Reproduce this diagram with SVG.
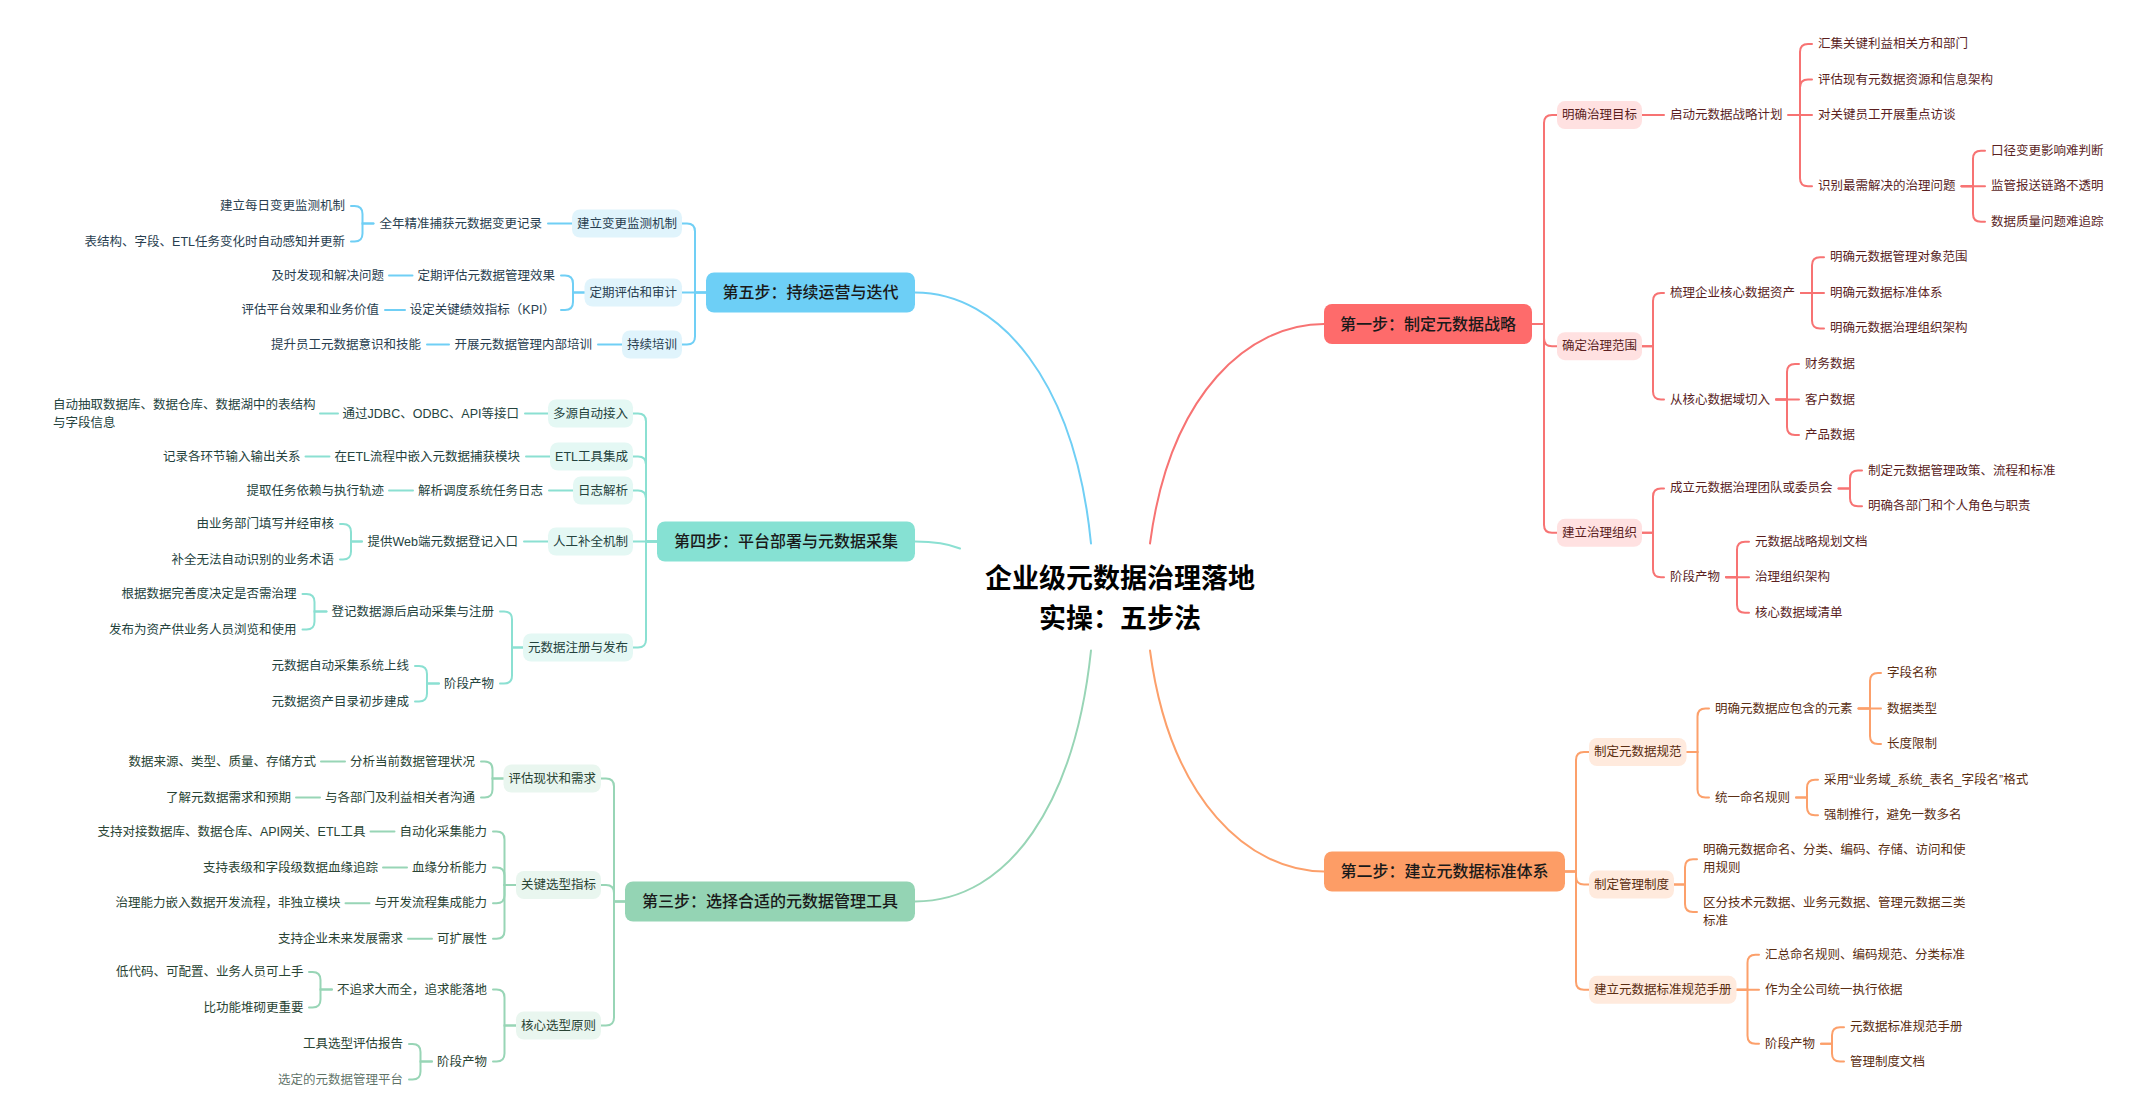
<svg xmlns="http://www.w3.org/2000/svg" width="2134" height="1102" viewBox="0 0 2134 1102">
<style>
text{font-family:"Liberation Sans","Noto Sans CJK SC",sans-serif;font-size:12.5px;dominant-baseline:central}
.title{font-family:"Liberation Sans","Noto Sans CJK SC",sans-serif;font-size:27px;font-weight:700;fill:#000;text-anchor:middle}
.step text{font-size:16px;font-weight:500;fill:#1a1a1a;text-anchor:middle}
.e{text-anchor:end}
#connectors path{fill:none;stroke-width:2;stroke-linecap:round}
.tr{fill:#5b1f1f}.to{fill:#5b2e12}.tb{fill:#283e50}.tt{fill:#24433e}.tg{fill:#294434}
.br{fill:#ffe1e1}.bo{fill:#ffeadd}.bb{fill:#e0f4fc}.bt{fill:#e4f8f4}.bg{fill:#e9f6ef}
.sr{fill:#fe6b6b}.so{fill:#fd9d66}.sb{fill:#6dcff6}.st{fill:#86e1d3}.sg{fill:#94d4b4}
#connectors .lr path{stroke:#f77373}#connectors .lo path{stroke:#fca06b}#connectors .lb path{stroke:#70cff5}#connectors .lt path{stroke:#8be0d2}#connectors .lg path{stroke:#98d5b6}
</style>
<rect width="2134" height="1102" fill="#fff"/>
<g transform="translate(0,1.5)">
<g id="connectors">
<g class="lr">
<path d="M1150,542 C1170,390 1250,322.5 1324,322.5"/>
<path d="M1532,322.5 H1544 V121.6 Q1544,113.6 1552,113.6 H1557"/>
<path d="M1532,322.5 H1544 V336.7 Q1544,344.7 1552,344.7 H1557"/>
<path d="M1532,322.5 H1544 V523.3 Q1544,531.3 1552,531.3 H1557"/>
<path d="M1642,113.6 H1664"/>
<path d="M1788.5,113.6 H1800 V50.5 Q1800,42.5 1808,42.5 H1812"/>
<path d="M1788.5,113.6 H1800 V86 Q1800,78 1808,78 H1812"/>
<path d="M1788.5,113.6 H1812"/>
<path d="M1788.5,113.6 H1800 V176.7 Q1800,184.7 1808,184.7 H1812"/>
<path d="M1961.5,184.7 H1973 V157.2 Q1973,149.2 1981,149.2 H1985"/>
<path d="M1961.5,184.7 H1985"/>
<path d="M1961.5,184.7 H1973 V212.3 Q1973,220.3 1981,220.3 H1985"/>
<path d="M1642,344.7 H1653 V299.4 Q1653,291.4 1661,291.4 H1664"/>
<path d="M1642,344.7 H1653 V390 Q1653,398 1661,398 H1664"/>
<path d="M1801,291.4 H1812 V263.8 Q1812,255.8 1820,255.8 H1824"/>
<path d="M1801,291.4 H1824"/>
<path d="M1801,291.4 H1812 V318.9 Q1812,326.9 1820,326.9 H1824"/>
<path d="M1776,398 H1787 V370.5 Q1787,362.5 1795,362.5 H1799"/>
<path d="M1776,398 H1799"/>
<path d="M1776,398 H1787 V425.6 Q1787,433.6 1795,433.6 H1799"/>
<path d="M1642,531.3 H1653 V494.9 Q1653,486.9 1661,486.9 H1664"/>
<path d="M1642,531.3 H1653 V567.8 Q1653,575.8 1661,575.8 H1664"/>
<path d="M1838.5,486.9 H1850 V477.1 Q1850,469.1 1858,469.1 H1862"/>
<path d="M1838.5,486.9 H1850 V496.7 Q1850,504.7 1858,504.7 H1862"/>
<path d="M1726,575.8 H1737 V548.2 Q1737,540.2 1745,540.2 H1749"/>
<path d="M1726,575.8 H1749"/>
<path d="M1726,575.8 H1737 V603.3 Q1737,611.3 1745,611.3 H1749"/>
</g>
<g class="lo">
<path d="M1150,649 C1170,800 1250,870 1324,870"/>
<path d="M1565,870 H1576 V758.5 Q1576,750.5 1584,750.5 H1589"/>
<path d="M1565,870 H1576 V875 Q1576,883 1584,883 H1589"/>
<path d="M1565,870 H1576 V980.3 Q1576,988.3 1584,988.3 H1589"/>
<path d="M1686.5,750.5 H1697.5 V715 Q1697.5,707 1705.5,707 H1709"/>
<path d="M1686.5,750.5 H1697.5 V788 Q1697.5,796 1705.5,796 H1709"/>
<path d="M1858.5,707 H1870 V679.5 Q1870,671.5 1878,671.5 H1881"/>
<path d="M1858.5,707 H1881"/>
<path d="M1858.5,707 H1870 V734.5 Q1870,742.5 1878,742.5 H1881"/>
<path d="M1796,796 H1807 V786.2 Q1807,778.2 1815,778.2 H1818"/>
<path d="M1796,796 H1807 V805.8 Q1807,813.8 1815,813.8 H1818"/>
<path d="M1674,883 H1685 V865.7 Q1685,857.7 1693,857.7 H1697"/>
<path d="M1674,883 H1685 V902.5 Q1685,910.5 1693,910.5 H1697"/>
<path d="M1736.5,988.3 H1747.5 V961.3 Q1747.5,953.3 1755.5,953.3 H1759"/>
<path d="M1736.5,988.3 H1759"/>
<path d="M1736.5,988.3 H1747.5 V1034.3 Q1747.5,1042.3 1755.5,1042.3 H1759"/>
<path d="M1821,1042.3 H1832 V1033.7 Q1832,1025.7 1840,1025.7 H1844"/>
<path d="M1821,1042.3 H1832 V1052 Q1832,1060 1840,1060 H1844"/>
</g>
<g class="lb">
<path d="M1091,542 C1075,380 1000,291 915,291"/>
<path d="M706,291 H695 V230 Q695,222 687,222 H682"/>
<path d="M706,291 H682"/>
<path d="M706,291 H695 V335 Q695,343 687,343 H682"/>
<path d="M572,222 H548"/>
<path d="M373.5,222 H362.5 V212.5 Q362.5,204.5 354.5,204.5 H351"/>
<path d="M373.5,222 H362.5 V232 Q362.5,240 354.5,240 H351"/>
<path d="M584.5,291 H573 V282 Q573,274 565,274 H561"/>
<path d="M584.5,291 H573 V300.5 Q573,308.5 565,308.5 H561"/>
<path d="M412.5,274 H389"/>
<path d="M405,308.5 H385"/>
<path d="M622,343 H598"/>
<path d="M449,343 H427"/>
</g>
<g class="lt">
<path d="M915,540 C935,540 948,542 960,547"/>
<path d="M657,540 H646 V420 Q646,412 638,412 H633"/>
<path d="M657,540 H646 V463 Q646,455 638,455 H633"/>
<path d="M657,540 H646 V497 Q646,489 638,489 H633"/>
<path d="M657,540 H633"/>
<path d="M657,540 H646 V638 Q646,646 638,646 H633"/>
<path d="M548,412 H525"/>
<path d="M338,412 H320"/>
<path d="M550,455 H526"/>
<path d="M329.5,455 H305.5"/>
<path d="M573,489 H549"/>
<path d="M413,489 H389"/>
<path d="M548,540 H524"/>
<path d="M362,540 H351 V530.5 Q351,522.5 343,522.5 H340"/>
<path d="M362,540 H351 V550 Q351,558 343,558 H340"/>
<path d="M523,646 H512 V618 Q512,610 504,610 H500"/>
<path d="M523,646 H512 V674 Q512,682 504,682 H500"/>
<path d="M326.5,610 H314.5 V600.5 Q314.5,592.5 306.5,592.5 H302.5"/>
<path d="M326.5,610 H314.5 V620 Q314.5,628 306.5,628 H302.5"/>
<path d="M439,682 H427 V672.5 Q427,664.5 419,664.5 H415"/>
<path d="M439,682 H427 V692 Q427,700 419,700 H415"/>
</g>
<g class="lg">
<path d="M1091,649 C1075,800 1010,900 915,900"/>
<path d="M625,900 H614 V785 Q614,777 606,777 H601"/>
<path d="M625,900 H614 V891.5 Q614,883.5 606,883.5 H601"/>
<path d="M625,900 H614 V1016 Q614,1024 606,1024 H601"/>
<path d="M503.5,777 H492.5 V768 Q492.5,760 484.5,760 H481"/>
<path d="M503.5,777 H492.5 V788 Q492.5,796 484.5,796 H481"/>
<path d="M345,760 H321"/>
<path d="M320,796 H296"/>
<path d="M516,883.5 H504.5 V838 Q504.5,830 496.5,830 H493"/>
<path d="M516,883.5 H504.5 V874 Q504.5,866 496.5,866 H493"/>
<path d="M516,883.5 H504.5 V893.8 Q504.5,901.8 496.5,901.8 H493"/>
<path d="M516,883.5 H504.5 V929.3 Q504.5,937.3 496.5,937.3 H493"/>
<path d="M394.5,830 H370.5"/>
<path d="M407,866 H383"/>
<path d="M369.5,901.8 H345.5"/>
<path d="M432,937.3 H408"/>
<path d="M516,1024 H504.5 V996 Q504.5,988 496.5,988 H493"/>
<path d="M516,1024 H504.5 V1052 Q504.5,1060 496.5,1060 H493"/>
<path d="M332,988 H320.5 V978.5 Q320.5,970.5 312.5,970.5 H309"/>
<path d="M332,988 H320.5 V998 Q320.5,1006 312.5,1006 H309"/>
<path d="M432,1060 H420.5 V1050.5 Q420.5,1042.5 412.5,1042.5 H409"/>
<path d="M432,1060 H420.5 V1070 Q420.5,1078 412.5,1078 H409"/>
</g>
</g>

<g id="root"><text class="title" x="1120" y="577">企业级元数据治理落地</text><text class="title" x="1120" y="617">实操：五步法</text></g>

<!-- Step 1 red -->
<g id="s1" class="step"><rect class="sr" x="1324" y="302.5" width="208" height="40" rx="8"/><text x="1428" y="322.5">第一步：制定元数据战略</text></g>
<g id="s1-1"><rect class="br" x="1557" y="99.6" width="85" height="28" rx="8"/><text class="tr" x="1562" y="113.6">明确治理目标</text></g>
<g id="s1-1-1"><text class="tr" x="1670" y="113.6">启动元数据战略计划</text></g>
<g id="s1-1-1-1"><text class="tr" x="1818" y="42.5">汇集关键利益相关方和部门</text></g>
<g id="s1-1-1-2"><text class="tr" x="1818" y="78">评估现有元数据资源和信息架构</text></g>
<g id="s1-1-1-3"><text class="tr" x="1818" y="113.6">对关键员工开展重点访谈</text></g>
<g id="s1-1-1-4"><text class="tr" x="1818" y="184.7">识别最需解决的治理问题</text></g>
<g id="s1-1-1-4-1"><text class="tr" x="1991" y="149.2">口径变更影响难判断</text></g>
<g id="s1-1-1-4-2"><text class="tr" x="1991" y="184.7">监管报送链路不透明</text></g>
<g id="s1-1-1-4-3"><text class="tr" x="1991" y="220.3">数据质量问题难追踪</text></g>
<g id="s1-2"><rect class="br" x="1557" y="330.7" width="85" height="28" rx="8"/><text class="tr" x="1562" y="344.7">确定治理范围</text></g>
<g id="s1-2-1"><text class="tr" x="1670" y="291.4">梳理企业核心数据资产</text></g>
<g id="s1-2-1-1"><text class="tr" x="1830" y="255.8">明确元数据管理对象范围</text></g>
<g id="s1-2-1-2"><text class="tr" x="1830" y="291.4">明确元数据标准体系</text></g>
<g id="s1-2-1-3"><text class="tr" x="1830" y="326.9">明确元数据治理组织架构</text></g>
<g id="s1-2-2"><text class="tr" x="1670" y="398">从核心数据域切入</text></g>
<g id="s1-2-2-1"><text class="tr" x="1805" y="362.5">财务数据</text></g>
<g id="s1-2-2-2"><text class="tr" x="1805" y="398">客户数据</text></g>
<g id="s1-2-2-3"><text class="tr" x="1805" y="433.6">产品数据</text></g>
<g id="s1-3"><rect class="br" x="1557" y="517.3" width="85" height="28" rx="8"/><text class="tr" x="1562" y="531.3">建立治理组织</text></g>
<g id="s1-3-1"><text class="tr" x="1670" y="486.9">成立元数据治理团队或委员会</text></g>
<g id="s1-3-1-1"><text class="tr" x="1868" y="469.1">制定元数据管理政策、流程和标准</text></g>
<g id="s1-3-1-2"><text class="tr" x="1868" y="504.7">明确各部门和个人角色与职责</text></g>
<g id="s1-3-2"><text class="tr" x="1670" y="575.8">阶段产物</text></g>
<g id="s1-3-2-1"><text class="tr" x="1755" y="540.2">元数据战略规划文档</text></g>
<g id="s1-3-2-2"><text class="tr" x="1755" y="575.8">治理组织架构</text></g>
<g id="s1-3-2-3"><text class="tr" x="1755" y="611.3">核心数据域清单</text></g>

<!-- Step 2 orange -->
<g id="s2" class="step"><rect class="so" x="1324" y="850" width="241" height="40" rx="8"/><text x="1444.5" y="870">第二步：建立元数据标准体系</text></g>
<g id="s2-1"><rect class="bo" x="1589" y="736.5" width="97.5" height="28" rx="8"/><text class="to" x="1594" y="750.5">制定元数据规范</text></g>
<g id="s2-1-1"><text class="to" x="1715" y="707">明确元数据应包含的元素</text></g>
<g id="s2-1-1-1"><text class="to" x="1887" y="671.5">字段名称</text></g>
<g id="s2-1-1-2"><text class="to" x="1887" y="707">数据类型</text></g>
<g id="s2-1-1-3"><text class="to" x="1887" y="742.5">长度限制</text></g>
<g id="s2-1-2"><text class="to" x="1715" y="796">统一命名规则</text></g>
<g id="s2-1-2-1"><text class="to" x="1824" y="778.2">采用“业务域_系统_表名_字段名”格式</text></g>
<g id="s2-1-2-2"><text class="to" x="1824" y="813.8">强制推行，避免一数多名</text></g>
<g id="s2-2"><rect class="bo" x="1589" y="869" width="85" height="28" rx="8"/><text class="to" x="1594" y="883">制定管理制度</text></g>
<g id="s2-2-1"><text class="to" x="1703" y="848.7">明确元数据命名、分类、编码、存储、访问和使</text><text class="to" x="1703" y="866.7">用规则</text></g>
<g id="s2-2-2"><text class="to" x="1703" y="901.7">区分技术元数据、业务元数据、管理元数据三类</text><text class="to" x="1703" y="919.3">标准</text></g>
<g id="s2-3"><rect class="bo" x="1589" y="974.3" width="147.5" height="28" rx="8"/><text class="to" x="1594" y="988.3">建立元数据标准规范手册</text></g>
<g id="s2-3-1"><text class="to" x="1765" y="953.3">汇总命名规则、编码规范、分类标准</text></g>
<g id="s2-3-2"><text class="to" x="1765" y="988.3">作为全公司统一执行依据</text></g>
<g id="s2-3-3"><text class="to" x="1765" y="1042.3">阶段产物</text></g>
<g id="s2-3-3-1"><text class="to" x="1850" y="1025.7">元数据标准规范手册</text></g>
<g id="s2-3-3-2"><text class="to" x="1850" y="1060">管理制度文档</text></g>

<!-- Step 5 blue -->
<g id="s5" class="step"><rect class="sb" x="706" y="271" width="209" height="40" rx="8"/><text x="810.5" y="291">第五步：持续运营与迭代</text></g>
<g id="s5-1"><rect class="bb" x="572" y="208" width="110" height="28" rx="8"/><text class="tb e" x="677" y="222">建立变更监测机制</text></g>
<g id="s5-1-1"><text class="tb e" x="542" y="222">全年精准捕获元数据变更记录</text></g>
<g id="s5-1-1-1"><text class="tb e" x="345" y="204.5">建立每日变更监测机制</text></g>
<g id="s5-1-1-2"><text class="tb e" x="345" y="240">表结构、字段、ETL任务变化时自动感知并更新</text></g>
<g id="s5-2"><rect class="bb" x="584.5" y="277" width="97.5" height="28" rx="8"/><text class="tb e" x="677" y="291">定期评估和审计</text></g>
<g id="s5-2-1"><text class="tb e" x="555" y="274">定期评估元数据管理效果</text></g>
<g id="s5-2-1-1"><text class="tb e" x="384" y="274">及时发现和解决问题</text></g>
<g id="s5-2-2"><text class="tb e" x="555" y="308.5">设定关键绩效指标（KPI）</text></g>
<g id="s5-2-2-1"><text class="tb e" x="379" y="308.5">评估平台效果和业务价值</text></g>
<g id="s5-3"><rect class="bb" x="622" y="329" width="60" height="28" rx="8"/><text class="tb e" x="677" y="343">持续培训</text></g>
<g id="s5-3-1"><text class="tb e" x="592" y="343">开展元数据管理内部培训</text></g>
<g id="s5-3-1-1"><text class="tb e" x="421" y="343">提升员工元数据意识和技能</text></g>

<!-- Step 4 teal -->
<g id="s4" class="step"><rect class="st" x="657" y="520" width="258" height="40" rx="8"/><text x="786" y="540">第四步：平台部署与元数据采集</text></g>
<g id="s4-1"><rect class="bt" x="548" y="398" width="85" height="28" rx="8"/><text class="tt e" x="628" y="412">多源自动接入</text></g>
<g id="s4-1-1"><text class="tt e" x="519" y="412">通过JDBC、ODBC、API等接口</text></g>
<g id="s4-1-1-1"><text class="tt" x="53" y="403">自动抽取数据库、数据仓库、数据湖中的表结构</text><text class="tt" x="53" y="421">与字段信息</text></g>
<g id="s4-2"><rect class="bt" x="550" y="441" width="83" height="28" rx="8"/><text class="tt e" x="628" y="455">ETL工具集成</text></g>
<g id="s4-2-1"><text class="tt e" x="520" y="455">在ETL流程中嵌入元数据捕获模块</text></g>
<g id="s4-2-1-1"><text class="tt e" x="300.5" y="455">记录各环节输入输出关系</text></g>
<g id="s4-3"><rect class="bt" x="573" y="475" width="60" height="28" rx="8"/><text class="tt e" x="628" y="489">日志解析</text></g>
<g id="s4-3-1"><text class="tt e" x="543" y="489">解析调度系统任务日志</text></g>
<g id="s4-3-1-1"><text class="tt e" x="384" y="489">提取任务依赖与执行轨迹</text></g>
<g id="s4-4"><rect class="bt" x="548" y="526" width="85" height="28" rx="8"/><text class="tt e" x="628" y="540">人工补全机制</text></g>
<g id="s4-4-1"><text class="tt e" x="518" y="540">提供Web端元数据登记入口</text></g>
<g id="s4-4-1-1"><text class="tt e" x="334" y="522.5">由业务部门填写并经审核</text></g>
<g id="s4-4-1-2"><text class="tt e" x="334" y="558">补全无法自动识别的业务术语</text></g>
<g id="s4-5"><rect class="bt" x="523" y="632" width="110" height="28" rx="8"/><text class="tt e" x="628" y="646">元数据注册与发布</text></g>
<g id="s4-5-1"><text class="tt e" x="494" y="610">登记数据源后启动采集与注册</text></g>
<g id="s4-5-1-1"><text class="tt e" x="296.5" y="592.5">根据数据完善度决定是否需治理</text></g>
<g id="s4-5-1-2"><text class="tt e" x="296.5" y="628">发布为资产供业务人员浏览和使用</text></g>
<g id="s4-5-2"><text class="tt e" x="494" y="682">阶段产物</text></g>
<g id="s4-5-2-1"><text class="tt e" x="409" y="664.5">元数据自动采集系统上线</text></g>
<g id="s4-5-2-2"><text class="tt e" x="409" y="700">元数据资产目录初步建成</text></g>

<!-- Step 3 green -->
<g id="s3" class="step"><rect class="sg" x="625" y="880" width="290" height="40" rx="8"/><text x="770" y="900">第三步：选择合适的元数据管理工具</text></g>
<g id="s3-1"><rect class="bg" x="503.5" y="763" width="97.5" height="28" rx="8"/><text class="tg e" x="596" y="777">评估现状和需求</text></g>
<g id="s3-1-1"><text class="tg e" x="475" y="760">分析当前数据管理状况</text></g>
<g id="s3-1-1-1"><text class="tg e" x="316" y="760">数据来源、类型、质量、存储方式</text></g>
<g id="s3-1-2"><text class="tg e" x="475" y="796">与各部门及利益相关者沟通</text></g>
<g id="s3-1-2-1"><text class="tg e" x="291" y="796">了解元数据需求和预期</text></g>
<g id="s3-2"><rect class="bg" x="516" y="869.5" width="85" height="28" rx="8"/><text class="tg e" x="596" y="883.5">关键选型指标</text></g>
<g id="s3-2-1"><text class="tg e" x="487" y="830">自动化采集能力</text></g>
<g id="s3-2-1-1"><text class="tg e" x="365.5" y="830">支持对接数据库、数据仓库、API网关、ETL工具</text></g>
<g id="s3-2-2"><text class="tg e" x="487" y="866">血缘分析能力</text></g>
<g id="s3-2-2-1"><text class="tg e" x="378" y="866">支持表级和字段级数据血缘追踪</text></g>
<g id="s3-2-3"><text class="tg e" x="487" y="901.8">与开发流程集成能力</text></g>
<g id="s3-2-3-1"><text class="tg e" x="340.5" y="901.8">治理能力嵌入数据开发流程，非独立模块</text></g>
<g id="s3-2-4"><text class="tg e" x="487" y="937.3">可扩展性</text></g>
<g id="s3-2-4-1"><text class="tg e" x="403" y="937.3">支持企业未来发展需求</text></g>
<g id="s3-3"><rect class="bg" x="516" y="1010" width="85" height="28" rx="8"/><text class="tg e" x="596" y="1024">核心选型原则</text></g>
<g id="s3-3-1"><text class="tg e" x="487" y="988">不追求大而全，追求能落地</text></g>
<g id="s3-3-1-1"><text class="tg e" x="303.5" y="970.5">低代码、可配置、业务人员可上手</text></g>
<g id="s3-3-1-2"><text class="tg e" x="303.5" y="1006">比功能堆砌更重要</text></g>
<g id="s3-3-2"><text class="tg e" x="487" y="1060">阶段产物</text></g>
<g id="s3-3-2-1"><text class="tg e" x="403" y="1042.5">工具选型评估报告</text></g>
<g id="s3-3-2-2"><text class="tg e" x="403" y="1078" fill-opacity="0.75">选定的元数据管理平台</text></g>
</g>
</svg>
